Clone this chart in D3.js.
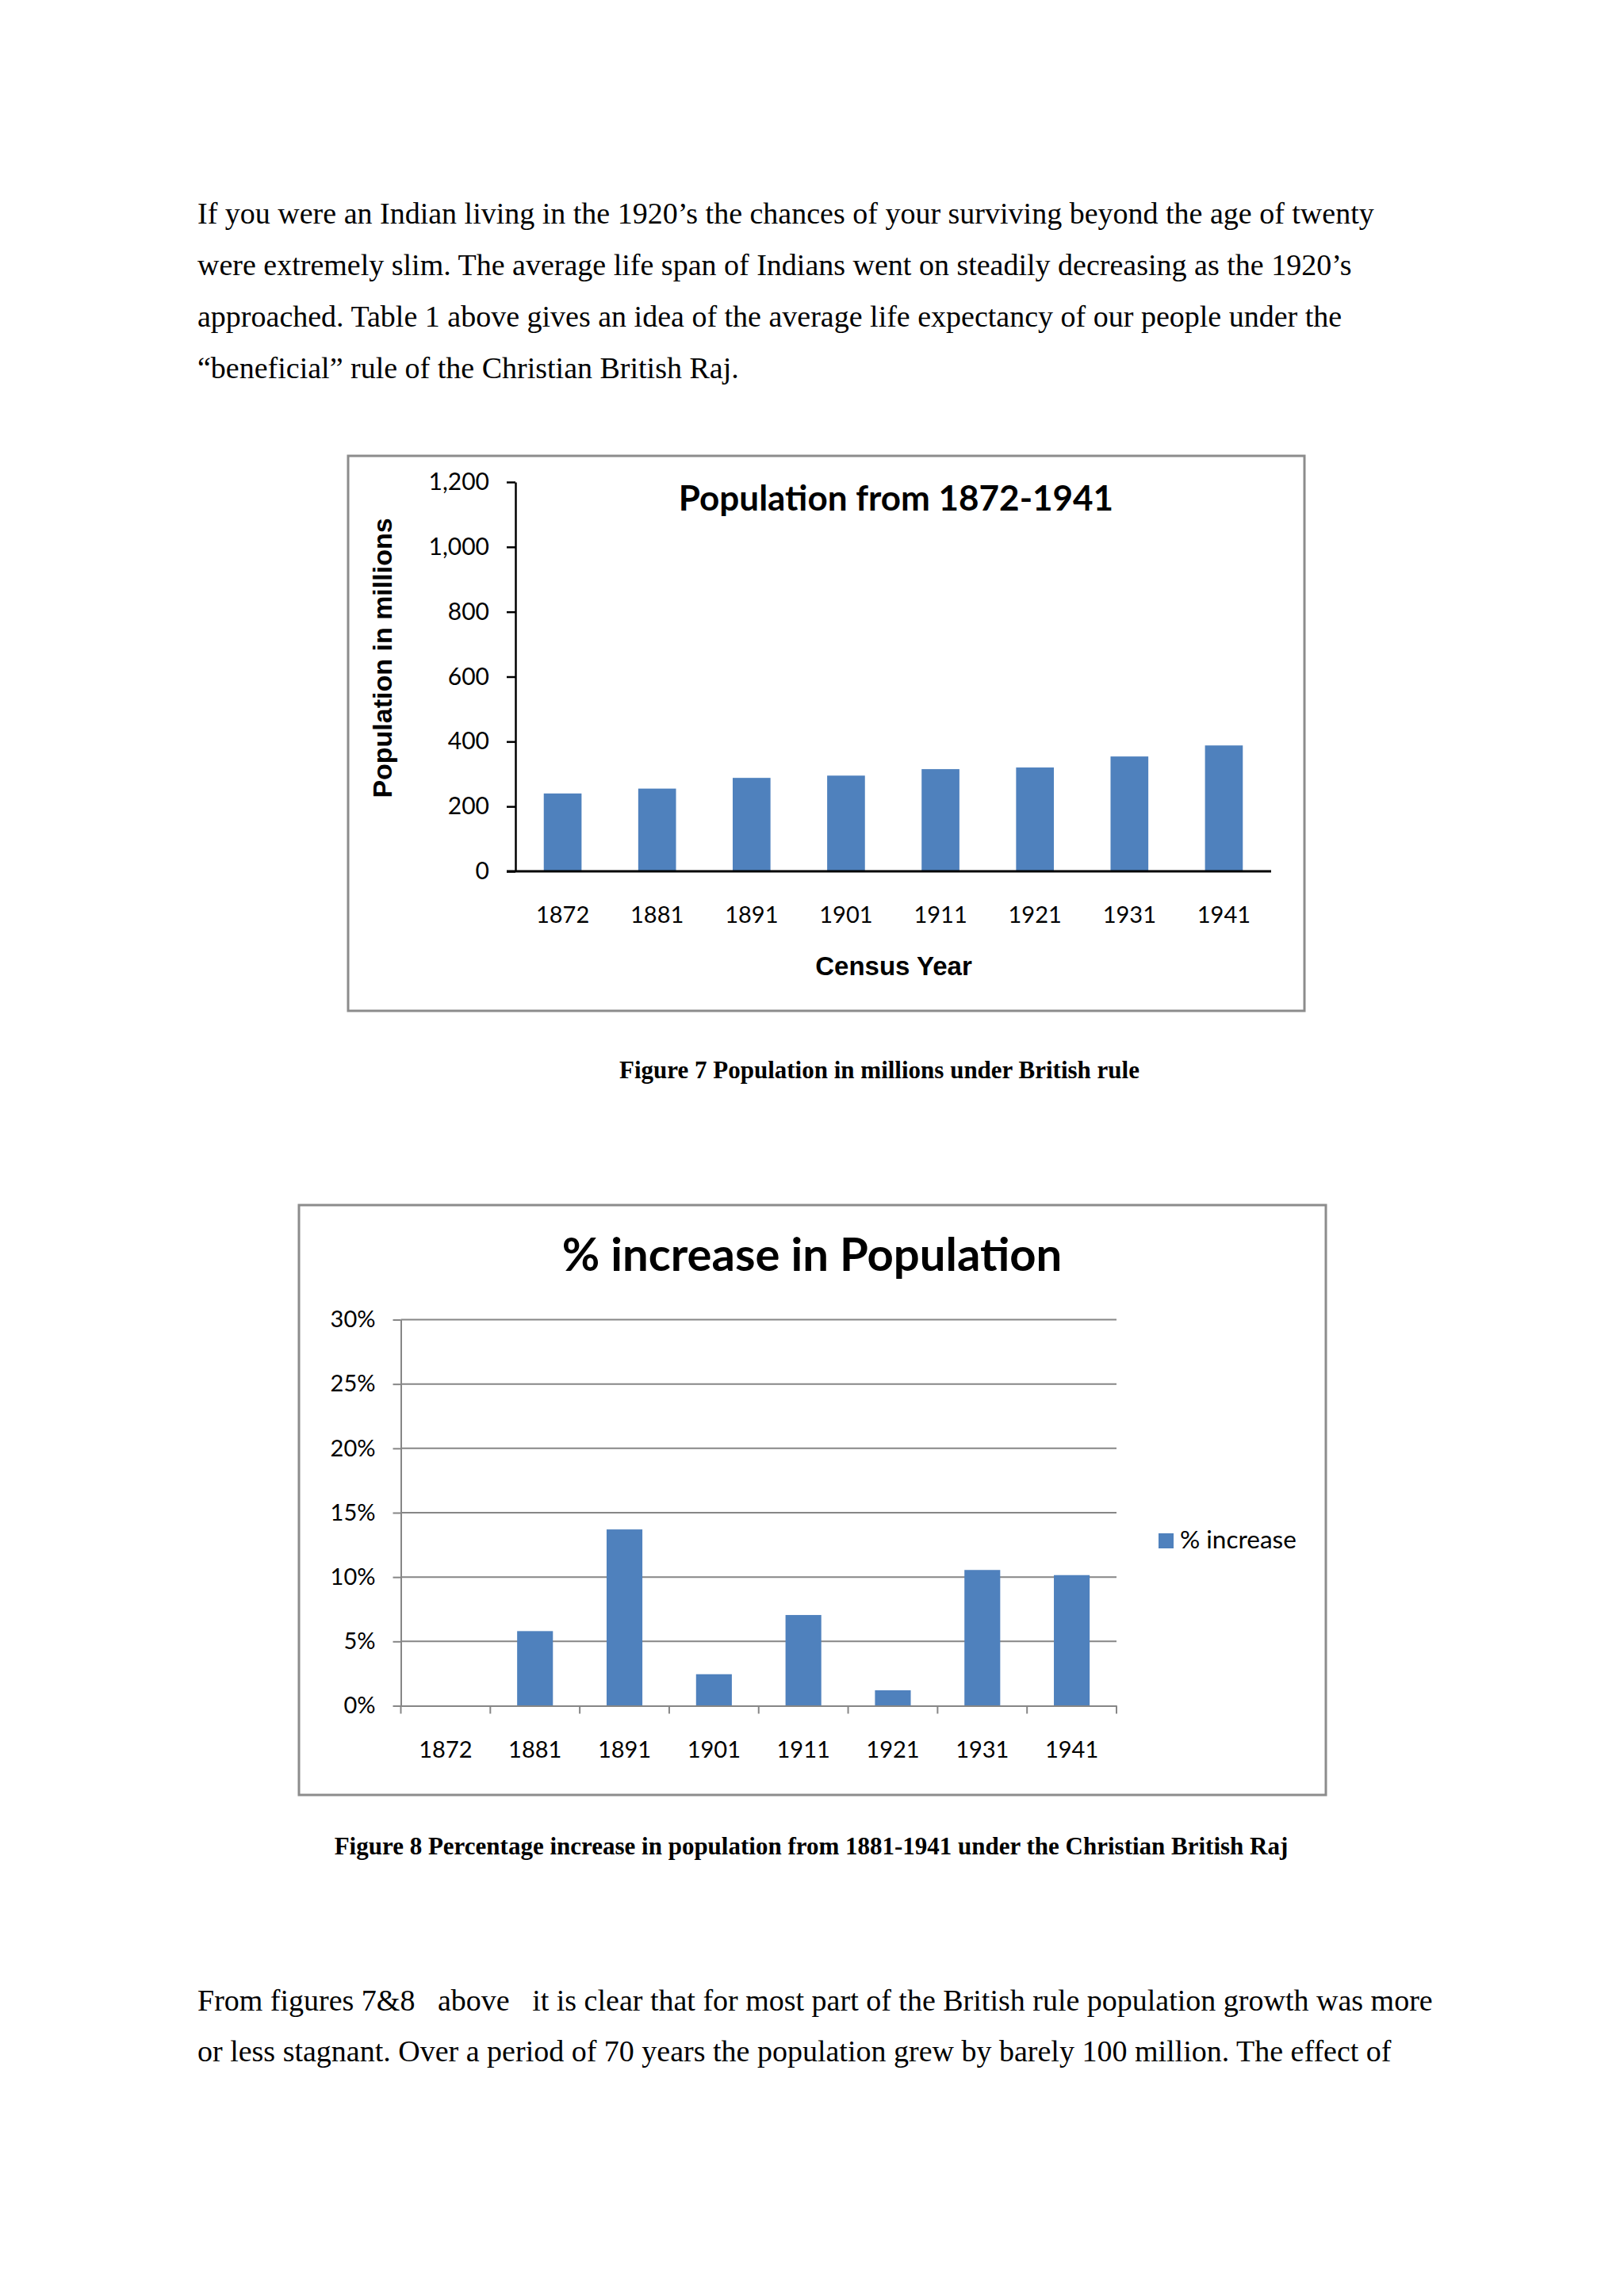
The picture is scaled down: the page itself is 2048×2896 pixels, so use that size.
<!DOCTYPE html>
<html>
<head>
<meta charset="utf-8">
<script src="https://cdn.jsdelivr.net/npm/d3@7"></script>
<style>
  body { margin: 0; background: #fff; }
  svg { display: block; }
</style>
</head>
<body>
<div id="page"></div>
<script>
// Data
let years = ["1872", "1881", "1891", "1901", "1911", "1921", "1931", "1941"];
let population = [240, 255, 288, 295, 315, 320, 354, 388];
let pctIncrease = [null, 5.8, 13.7, 2.45, 7.05, 1.2, 10.55, 10.15];
let popTicks = [0, 200, 400, 600, 800, 1000, 1200];
let pctTicks = [0, 5, 10, 15, 20, 25, 30];

let para1 = [
    "If you were an Indian living in the 1920\u2019s the chances of your surviving beyond the age of twenty",
    "were extremely slim. The average life span of Indians went on steadily decreasing as the 1920\u2019s",
    "approached. Table 1 above gives an idea of the average life expectancy of our people under the",
    "\u201cbeneficial\u201d rule of the Christian British Raj."
];
let para2 = [
    "From figures 7&8   above   it is clear that for most part of the British rule population growth was more",
    "or less stagnant. Over a period of 70 years the population grew by barely 100 million. The effect of"
];
let caption7 = "Figure 7 Population in millions under British rule";
let caption8 = "Figure 8 Percentage increase in population from 1881-1941 under the Christian British Raj";

let svgWidth = 2048;
let svgHeight = 2896;
let barColor = "#4f81bd";
let chartFont = "Lato, 'Open Sans', sans-serif";
let serif = "'Liberation Serif', 'Times New Roman', serif";

let svg = d3.select("#page")
    .append("svg")
    .attr("width", svgWidth)
    .attr("height", svgHeight);

svg.append("rect").attr("width", svgWidth).attr("height", svgHeight).attr("fill", "#fff");

// Body text
function writeLines(lines, top, step) {
    svg.append("g").selectAll("text")
        .data(lines)
        .enter()
        .append("text")
        .attr("x", 249)
        .attr("y", (d, i) => top + i * step)
        .attr("font-family", serif)
        .attr("font-size", 38)
        .attr("fill", "#000")
        .style("white-space", "pre")
        .text(d => d);
}
writeLines(para1, 282, 65);
writeLines(para2, 2536, 64);

// ---------- Figure 7 ----------
svg.append("rect")
    .attr("x", 439).attr("y", 575)
    .attr("width", 1206).attr("height", 700)
    .attr("fill", "none")
    .attr("stroke", "#8c8c8c")
    .attr("stroke-width", 3);

let c1 = { left: 650, right: 1603, top: 608, bottom: 1099 };

let x1 = d3.scaleBand()
    .domain(years)
    .range([c1.left, c1.right])
    .paddingInner(0.6)
    .paddingOuter(0.3);

let y1 = d3.scaleLinear()
    .domain([0, 1200])
    .range([c1.bottom, c1.top]);

let g1 = svg.append("g");

g1.selectAll("rect.bar")
    .data(years)
    .enter()
    .append("rect")
    .attr("class", "bar")
    .attr("x", d => x1(d))
    .attr("width", x1.bandwidth())
    .attr("y", (d, i) => y1(population[i]))
    .attr("height", (d, i) => y1(0) - y1(population[i]))
    .attr("fill", barColor);

let yAxis1 = g1.append("g")
    .attr("transform", `translate(${c1.left},0)`)
    .call(d3.axisLeft(y1).tickValues(popTicks).tickFormat(d3.format(",")).tickSize(11).tickSizeOuter(0).tickPadding(22));
yAxis1.select(".domain").attr("stroke", "#000").attr("stroke-width", 2.5);
yAxis1.selectAll(".tick line").attr("stroke", "#000").attr("stroke-width", 2.5);
yAxis1.selectAll("text").attr("font-family", chartFont).attr("font-size", 30).attr("fill", "#000");

let xAxis1 = g1.append("g")
    .attr("transform", `translate(0,${c1.bottom})`)
    .call(d3.axisBottom(x1).tickSize(0).tickSizeOuter(0).tickPadding(44));
xAxis1.select(".domain").attr("stroke", "#000").attr("stroke-width", 3)
    .attr("d", `M${c1.left - 11},0H${c1.right}`);
xAxis1.selectAll("text").attr("font-family", chartFont).attr("font-size", 29).attr("fill", "#000");

g1.append("text")
    .attr("x", 1130).attr("y", 644)
    .attr("text-anchor", "middle")
    .attr("font-family", chartFont)
    .attr("font-weight", "bold")
    .attr("font-size", 44)
    .text("Population from 1872-1941");

g1.append("text")
    .attr("transform", "translate(494,830) rotate(-90)")
    .attr("text-anchor", "middle")
    .attr("font-family", "'Liberation Sans', Arial, sans-serif")
    .attr("font-weight", "bold")
    .attr("font-size", 34)
    .text("Population in millions");

g1.append("text")
    .attr("x", 1127).attr("y", 1230)
    .attr("text-anchor", "middle")
    .attr("font-family", "'Liberation Sans', Arial, sans-serif")
    .attr("font-weight", "bold")
    .attr("font-size", 33)
    .text("Census Year");

svg.append("text")
    .attr("x", 1109).attr("y", 1360)
    .attr("text-anchor", "middle")
    .attr("font-family", serif)
    .attr("font-weight", "bold")
    .attr("font-size", 31)
    .text(caption7);

// ---------- Figure 8 ----------
svg.append("rect")
    .attr("x", 377).attr("y", 1520)
    .attr("width", 1295).attr("height", 744)
    .attr("fill", "none")
    .attr("stroke", "#8c8c8c")
    .attr("stroke-width", 3);

let c2 = { left: 505.5, right: 1408, top: 1664.5, bottom: 2151.5 };

let x2 = d3.scaleBand()
    .domain(years)
    .range([c2.left, c2.right])
    .paddingInner(0.6)
    .paddingOuter(0.3);

let y2 = d3.scaleLinear()
    .domain([0, 30])
    .range([c2.bottom, c2.top]);

let g2 = svg.append("g");
let gridColor = "#868686";

// gridlines
g2.selectAll("line.grid")
    .data(pctTicks.filter(d => d > 0))
    .enter()
    .append("line")
    .attr("class", "grid")
    .attr("x1", c2.left).attr("x2", c2.right)
    .attr("y1", d => y2(d)).attr("y2", d => y2(d))
    .attr("stroke", gridColor)
    .attr("stroke-width", 2);

g2.selectAll("rect.bar")
    .data(years.filter((d, i) => pctIncrease[i] != null))
    .enter()
    .append("rect")
    .attr("class", "bar")
    .attr("x", d => x2(d))
    .attr("width", x2.bandwidth())
    .attr("y", d => y2(pctIncrease[years.indexOf(d)]))
    .attr("height", d => y2(0) - y2(pctIncrease[years.indexOf(d)]))
    .attr("fill", barColor);

let yAxis2 = g2.append("g")
    .attr("transform", `translate(${c2.left},0)`)
    .call(d3.axisLeft(y2).tickValues(pctTicks).tickFormat(d => d + "%").tickSize(10).tickSizeOuter(0).tickPadding(22));
yAxis2.select(".domain").attr("stroke", gridColor).attr("stroke-width", 2);
yAxis2.selectAll(".tick line").attr("stroke", gridColor).attr("stroke-width", 2);
yAxis2.selectAll("text").attr("font-family", chartFont).attr("font-size", 29).attr("fill", "#000");

let xAxis2 = g2.append("g")
    .attr("transform", `translate(0,${c2.bottom})`)
    .call(d3.axisBottom(x2).tickSize(0).tickSizeOuter(0).tickPadding(45));
xAxis2.select(".domain").attr("stroke", gridColor).attr("stroke-width", 2);
xAxis2.selectAll("text").attr("font-family", chartFont).attr("font-size", 29).attr("fill", "#000");

// category boundary tick marks
xAxis2.selectAll("line.boundary")
    .data(d3.range(years.length + 1))
    .enter()
    .append("line")
    .attr("class", "boundary")
    .attr("x1", i => c2.left + i * x2.step())
    .attr("x2", i => c2.left + i * x2.step())
    .attr("y1", 0).attr("y2", 10)
    .attr("stroke", gridColor)
    .attr("stroke-width", 2);

g2.append("text")
    .attr("x", 1024).attr("y", 1603)
    .attr("text-anchor", "middle")
    .attr("font-family", chartFont)
    .attr("font-weight", "bold")
    .attr("font-size", 58)
    .text("% increase in Population");

// legend
g2.append("rect")
    .attr("x", 1461).attr("y", 1934)
    .attr("width", 19).attr("height", 19)
    .attr("fill", barColor);
g2.append("text")
    .attr("x", 1488).attr("y", 1953)
    .attr("font-family", chartFont)
    .attr("font-size", 31.5)
    .text("% increase");

svg.append("text")
    .attr("x", 1023).attr("y", 2339)
    .attr("text-anchor", "middle")
    .attr("font-family", serif)
    .attr("font-weight", "bold")
    .attr("font-size", 31)
    .text(caption8);
</script>
</body>
</html>
